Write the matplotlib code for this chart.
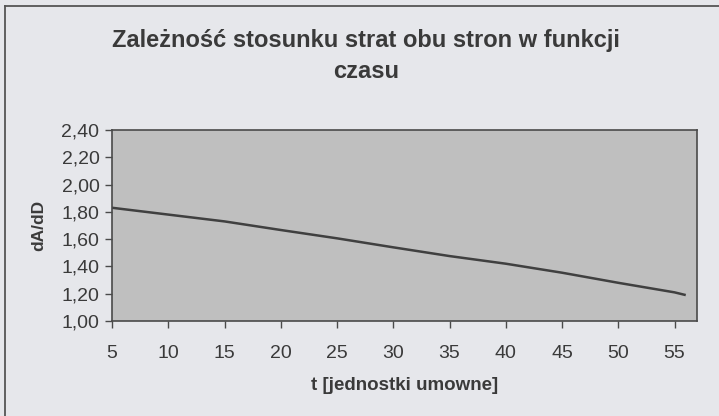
import numpy as np
import matplotlib
matplotlib.use("Agg")
import matplotlib.pyplot as plt
from matplotlib.ticker import FuncFormatter

plt.rcParams['font.family'] = ['Liberation Sans', 'DejaVu Sans']

# dane: stosunek strat dA/dD w funkcji czasu
t = [5, 10, 15, 20, 25, 30, 35, 40, 45, 50, 55, 56]
dA_dD = [1.83, 1.78, 1.73, 1.667, 1.606, 1.54, 1.476, 1.42, 1.354, 1.28, 1.21, 1.19]

xticks = [5, 10, 15, 20, 25, 30, 35, 40, 45, 50, 55]
yticks = [1.0, 1.2, 1.4, 1.6, 1.8, 2.0, 2.2, 2.4]

tlo = "#e6e7eb"
tlo_wykresu = "#bfbfbf"
ciemny = "#3a3a3a"

fig = plt.figure(figsize=(7.19, 4.16), dpi=100, facecolor=tlo)
ax = fig.add_axes([112/719, 1-321/416, 585/719, 191/416])
ax.set_facecolor(tlo_wykresu)

ax.plot(t, dA_dD, color="#404040", lw=1.8, solid_capstyle="butt")

ax.set_xlim(5, 57)
ax.set_ylim(1.0, 2.4)
ax.set_xticks(xticks)
ax.set_yticks(yticks)
ax.yaxis.set_major_formatter(FuncFormatter(lambda v, p: f"{v:.2f}".replace(".", ",")))

for s in ax.spines.values():
    s.set_color("#4a4a4a")
    s.set_linewidth(1.2)

ax.tick_params(direction="out", length=5, width=1, color="#4a4a4a",
               labelsize=14, labelcolor=ciemny, pad=4)
ax.tick_params(axis="x", pad=12)

ax.set_xlabel("t [jednostki umowne]", fontsize=13.5, fontweight="bold", color=ciemny, labelpad=11)
ax.set_ylabel("dA/dD", fontsize=12.5, fontweight="bold", color=ciemny, labelpad=11)

# tytuł wykresu (wyśrodkowany względem całego obszaru wykresu)
fig.text(366/719, 1-40/416, "Zależność stosunku strat obu stron w funkcji",
         ha="center", va="center", fontsize=17, fontweight="bold", color=ciemny)
fig.text(366/719, 1-72/416, "czasu",
         ha="center", va="center", fontsize=17, fontweight="bold", color=ciemny)

# ramka obszaru wykresu
fig.add_artist(plt.Line2D([5/719, 5/719], [0, 1-6/416], color="#555555", lw=1.3))
fig.add_artist(plt.Line2D([5/719, 1], [1-6/416, 1-6/416], color="#555555", lw=1.3))

fig.savefig("out.png", dpi=100, facecolor=tlo)
